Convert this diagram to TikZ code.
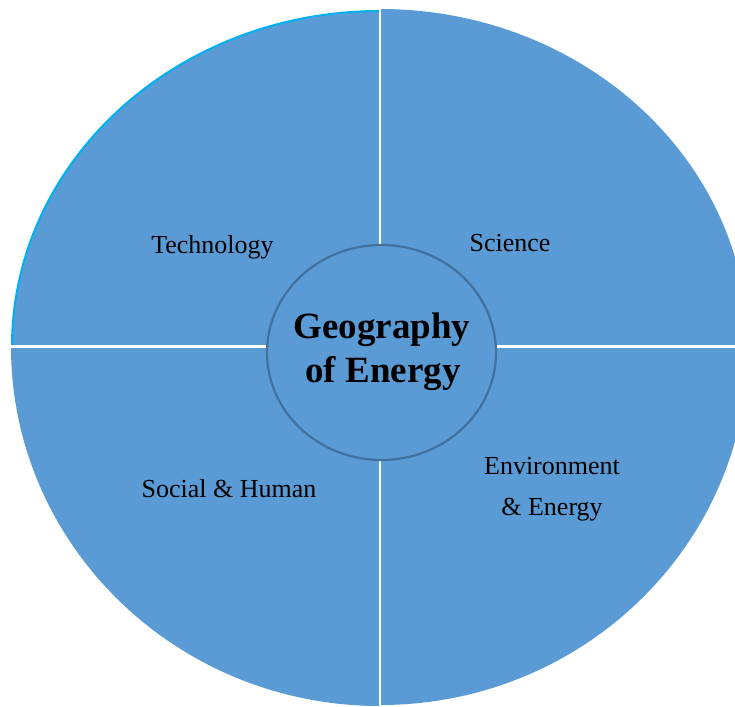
\documentclass[tikz,border=0pt]{standalone}
\usepackage{fontspec}
\setmainfont{Liberation Serif}
\usetikzlibrary{shapes.geometric}
\definecolor{segblue}{HTML}{5B9BD5}
\definecolor{segcyan}{HTML}{00B0F0}
\definecolor{ringblue}{HTML}{41719C}
\tikzset{
  seg/.style={fill=segblue, draw=none},
  lbl/.style={anchor=base, font=\fontsize{26}{30}\selectfont, text=black, inner sep=0pt},
  hub/.style={ellipse, draw=ringblue, line width=2.2pt, fill=segblue, minimum width=229pt, minimum height=215pt, inner sep=0pt},
  divider/.style={draw=white, line width=2.7pt}
}
\begin{document}
\begin{tikzpicture}[x=1pt,y=-1pt]
\useasboundingbox (0,0) rectangle (735,706);
\clip (0,0) rectangle (735,706);
\def\kk{0.5523}
\coordinate (C) at (380,346.5);
% top-left quarter
\fill[seg] (C) -- (12,346.5) .. controls (12,{346.5-\kk*335.5}) and ({380-\kk*368},11) .. (380,11) -- cycle;
% top-right quarter
\fill[seg] (C) -- (380,9) .. controls ({380+\kk*368},9) and (748,{346.5-\kk*337.5}) .. (748,346.5) -- cycle;
% bottom-right quarter
\fill[seg] (C) -- (748,346.5) .. controls (748,{346.5+\kk*358.5}) and ({380+\kk*368},705) .. (380,705) -- cycle;
% bottom-left quarter
\fill[seg] (C) -- (380,706) .. controls ({380-\kk*369},706) and (11,{346.5+\kk*359.5}) .. (11,346.5) -- cycle;
% cyan rim of top-left quarter
\draw[segcyan, line width=2pt] (12,346.5) .. controls (12,{346.5-\kk*335.5}) and ({380-\kk*368},11) .. (380,11);
% dividers
\coordinate (vt) at (380,0);
\coordinate (vb) at (380,706);
\coordinate (hl) at (0,346.5);
\coordinate (hr) at (735,346.5);
\draw[divider] (vt) -- (vb);
\draw[divider] (hl) -- (hr);
% hub
\node[hub] (hubnode) at (381.5,352.5) {};
\node[anchor=base, inner sep=0pt, font=\bfseries\fontsize{37}{44}\selectfont] (geo1) at (382,338) {Geography};
\node[anchor=base, inner sep=0pt, font=\bfseries\fontsize{37}{44}\selectfont] (geo2) at (383,382) {of Energy};
% labels
\node[lbl] (tech) at (212.5,253) {Technology};
\node[lbl] (sci) at (510,251) {Science};
\node[lbl] (soc) at (229,497) {Social \& Human};
\node[lbl] (env1) at (552,474) {Environment};
\node[lbl] (env2) at (552,515) {\& Energy};
\end{tikzpicture}
\end{document}
